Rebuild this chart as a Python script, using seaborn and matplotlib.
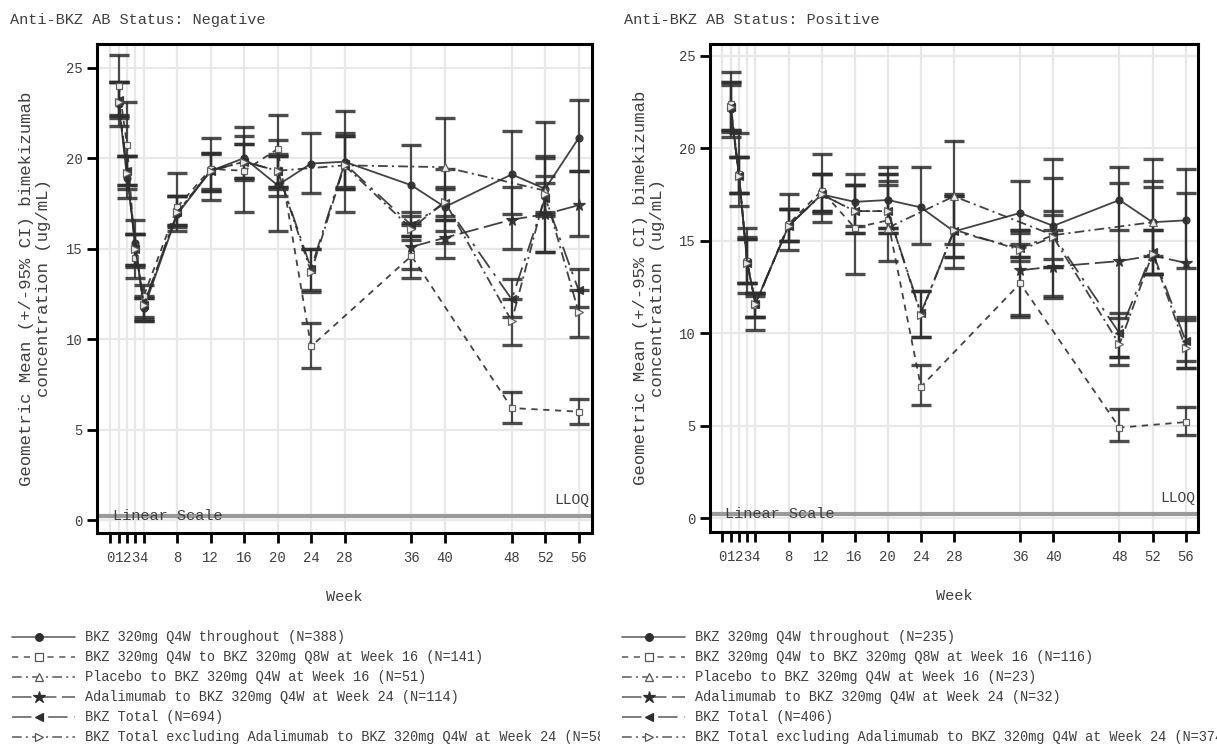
import numpy as np
import pandas as pd
import matplotlib
matplotlib.use("Agg")
import matplotlib.pyplot as plt
import seaborn as sns

# ---------------- data ----------------
WEEKS_ALL = [1, 2, 3, 4, 8, 12, 16, 20, 24, 28, 36, 40, 48, 52, 56]
WEEKS_Q8W = [1, 2, 3, 4, 8, 12, 16, 20, 24, 36, 48, 56]
WEEKS_PBO = [20, 28, 40, 52]
WEEKS_ADA = [36, 40, 48, 52, 56]
TICK_WEEKS = [0, 1, 2, 3, 4, 8, 12, 16, 20, 24, 28, 36, 40, 48, 52, 56]
TICK_LABELS = ["0", "1", "2", "3", "4", "8", "12", "16", "20", "24", "28", "36", "40", "48", "52", "56"]
Y_TICKS = [0, 5, 10, 15, 20, 25]
LLOQ = 0.25

PANEL_TITLES = ["Anti-BKZ AB Status: Negative", "Anti-BKZ AB Status: Positive"]

# Negative panel
neg_q4w_gm = [23.0, 18.9, 15.3, 11.7, 16.9, 19.3, 20.0, 18.5, 19.7, 19.8, 18.5, 17.3, 19.1, 18.3, 21.1]
neg_q4w_lo = [21.8, 17.8, 14.0, 11.0, 16.2, 18.3, 18.8, 16.0, 18.1, 18.3, 16.3, 15.3, 16.9, 14.8, 19.3]
neg_q4w_hi = [24.2, 20.1, 16.6, 12.4, 17.9, 20.3, 21.2, 21.0, 21.4, 21.2, 20.7, 19.4, 21.5, 22.0, 23.2]

neg_q8w_gm = [24.0, 20.7, 14.5, 12.4, 17.3, 19.4, 19.3, 20.5, 9.6, 14.6, 6.2, 6.0]
neg_q8w_lo = [22.3, 18.5, 13.4, 11.0, 16.0, 17.7, 17.0, 17.9, 8.4, 13.4, 5.4, 5.3]
neg_q8w_hi = [25.7, 23.1, 15.8, 13.0, 19.2, 21.1, 21.7, 22.4, 10.9, 15.7, 7.1, 6.7]

neg_pbo_gm = [19.3, 19.6, 19.5, 18.2]
neg_pbo_lo = [18.4, 17.0, 16.0, 16.8]
neg_pbo_hi = [20.1, 22.6, 22.2, 20.0]

neg_ada_gm = [15.1, 15.6, 16.6, 16.9, 17.4]
neg_ada_lo = [13.9, 14.5, 15.0, 14.8, 15.7]
neg_ada_hi = [16.4, 16.8, 18.4, 20.1, 19.3]

neg_tot_gm = [23.2, 19.3, 15.0, 11.9, 17.0, 19.3, 19.8, 19.3, 13.9, 19.7, 16.3, 17.5, 12.2, 17.8, 12.7]
neg_tot_lo = [22.4, 18.5, 14.1, 11.2, 16.3, 18.2, 18.9, 18.4, 12.7, 18.4, 15.7, 16.6, 11.2, 16.9, 11.8]
neg_tot_hi = [24.2, 20.1, 15.8, 12.3, 17.9, 20.2, 20.8, 20.1, 15.0, 21.4, 17.0, 18.3, 13.3, 18.6, 13.9]

neg_tex_gm = [23.1, 19.2, 15.0, 11.9, 17.0, 19.3, 19.8, 19.3, 13.7, 19.6, 16.1, 17.6, 11.0, 18.0, 11.5]
neg_tex_lo = [22.2, 18.3, 14.1, 11.1, 16.3, 18.2, 18.9, 18.3, 12.6, 18.3, 15.5, 16.6, 9.7, 17.0, 10.1]
neg_tex_hi = [24.2, 20.1, 15.8, 12.3, 17.9, 20.3, 20.8, 20.2, 15.0, 21.2, 16.8, 18.4, 12.2, 19.0, 12.7]

# Positive panel
pos_q4w_gm = [22.1, 18.5, 13.8, 11.6, 15.8, 17.5, 17.1, 17.2, 16.8, 15.5, 16.5, 15.8, 17.2, 16.0, 16.1]
pos_q4w_lo = [20.9, 17.6, 12.7, 10.9, 15.0, 16.5, 15.8, 15.4, 14.8, 13.5, 14.8, 12.0, 15.6, 13.2, 13.5]
pos_q4w_hi = [23.4, 19.5, 15.2, 12.2, 16.7, 18.6, 18.6, 19.0, 19.0, 17.5, 18.2, 19.4, 19.0, 19.4, 18.9]

pos_q8w_gm = [22.4, 18.6, 13.9, 11.5, 15.9, 17.7, 15.7, 16.1, 7.1, 12.7, 4.9, 5.2]
pos_q8w_lo = [20.6, 16.9, 12.2, 10.2, 14.5, 16.0, 13.2, 13.9, 6.1, 11.0, 4.2, 4.5]
pos_q8w_hi = [24.1, 20.8, 15.7, 12.0, 17.5, 19.7, 18.0, 18.2, 8.3, 14.1, 5.9, 6.0]

pos_pbo_gm = [15.7, 17.4, 15.3, 16.0]
pos_pbo_lo = [15.4, 14.8, 13.6, 14.2]
pos_pbo_hi = [18.0, 20.4, 18.4, 18.2]

pos_ada_gm = [13.4, 13.6, 13.9, 14.2, 13.8]
pos_ada_lo = [10.9, 11.9, 8.7, 13.2, 8.1]
pos_ada_hi = [15.6, 15.6, 18.1, 17.9, 17.6]

pos_tot_gm = [22.2, 18.5, 13.8, 11.6, 15.8, 17.5, 16.6, 16.6, 11.1, 15.5, 14.6, 15.3, 10.0, 14.4, 9.6]
pos_tot_lo = [21.0, 17.6, 12.7, 10.9, 15.0, 16.6, 15.4, 15.7, 9.8, 14.1, 14.1, 14.0, 8.7, 13.2, 8.5]
pos_tot_hi = [23.6, 19.5, 15.1, 12.2, 16.7, 18.6, 18.0, 18.6, 12.3, 17.4, 15.6, 16.4, 11.1, 15.6, 10.9]

pos_tex_gm = [22.2, 18.5, 13.8, 11.6, 15.8, 17.5, 16.6, 16.6, 11.0, 15.6, 14.5, 15.2, 9.4, 14.3, 9.2]
pos_tex_lo = [21.0, 17.6, 12.7, 10.9, 15.0, 16.6, 15.4, 15.7, 9.8, 14.1, 13.9, 13.6, 8.3, 13.2, 8.1]
pos_tex_hi = [23.6, 19.5, 15.1, 12.2, 16.7, 18.6, 18.0, 18.6, 12.3, 17.4, 15.4, 16.6, 10.8, 15.6, 10.7]

neg_labels = [
    "BKZ 320mg Q4W throughout (N=388)",
    "BKZ 320mg Q4W to BKZ 320mg Q8W at Week 16 (N=141)",
    "Placebo to BKZ 320mg Q4W at Week 16 (N=51)",
    "Adalimumab to BKZ 320mg Q4W at Week 24 (N=114)",
    "BKZ Total (N=694)",
    "BKZ Total excluding Adalimumab to BKZ 320mg Q4W at Week 24 (N=580)",
]
pos_labels = [
    "BKZ 320mg Q4W throughout (N=235)",
    "BKZ 320mg Q4W to BKZ 320mg Q8W at Week 16 (N=116)",
    "Placebo to BKZ 320mg Q4W at Week 16 (N=23)",
    "Adalimumab to BKZ 320mg Q4W at Week 24 (N=32)",
    "BKZ Total (N=406)",
    "BKZ Total excluding Adalimumab to BKZ 320mg Q4W at Week 24 (N=374)",
]

# ---------------- styles ----------------
LINE_C = "#2e2e2e"
STYLES = [
    dict(ls="-", marker="o", mfc=LINE_C, mec=LINE_C, ms=5),
    dict(ls=(0, (4.5, 4)), marker="s", mfc="white", mec="#555555", ms=5),
    dict(ls=(0, (7, 3, 1.5, 3)), marker="^", mfc="white", mec="#555555", ms=5.5),
    dict(ls=(0, (14, 4)), marker="*", mfc=LINE_C, mec=LINE_C, ms=8.5),
    dict(ls=(0, (14, 5, 2, 5)), marker="<", mfc=LINE_C, mec=LINE_C, ms=5.5),
    dict(ls=(0, (7, 3, 1.5, 3)), marker=">", mfc="white", mec="#555555", ms=5.5),
]

sns.set_theme(style="whitegrid")
plt.rcParams["font.family"] = ["Liberation Mono", "DejaVu Sans Mono"]
plt.rcParams["lines.scale_dashes"] = False
TXT_C = "#3f3f3f"

W, H = 1217, 744
fig = plt.figure(figsize=(W / 100, H / 100), dpi=100)


def px_rect(x0, y0, x1, y1):
    return [x0 / W, 1 - y1 / H, (x1 - x0) / W, (y1 - y0) / H]


panels = [
    dict(rect=px_rect(97, 44, 592, 533), xlim=(-1.6, 57.6), ylim=(-0.7, 26.3), title_x=10,
         series=[(WEEKS_ALL, neg_q4w_gm, neg_q4w_lo, neg_q4w_hi),
                 (WEEKS_Q8W, neg_q8w_gm, neg_q8w_lo, neg_q8w_hi),
                 (WEEKS_PBO, neg_pbo_gm, neg_pbo_lo, neg_pbo_hi),
                 (WEEKS_ADA, neg_ada_gm, neg_ada_lo, neg_ada_hi),
                 (WEEKS_ALL, neg_tot_gm, neg_tot_lo, neg_tot_hi),
                 (WEEKS_ALL, neg_tex_gm, neg_tex_lo, neg_tex_hi)],
         labels=neg_labels, leg_rect=px_rect(0, 620, 600, 744), leg_x0=12),
    dict(rect=px_rect(710, 44, 1198, 532), xlim=(-1.5, 57.5), ylim=(-0.74, 25.63), title_x=624,
         series=[(WEEKS_ALL, pos_q4w_gm, pos_q4w_lo, pos_q4w_hi),
                 (WEEKS_Q8W, pos_q8w_gm, pos_q8w_lo, pos_q8w_hi),
                 (WEEKS_PBO, pos_pbo_gm, pos_pbo_lo, pos_pbo_hi),
                 (WEEKS_ADA, pos_ada_gm, pos_ada_lo, pos_ada_hi),
                 (WEEKS_ALL, pos_tot_gm, pos_tot_lo, pos_tot_hi),
                 (WEEKS_ALL, pos_tex_gm, pos_tex_lo, pos_tex_hi)],
         labels=pos_labels, leg_rect=px_rect(610, 620, 1217, 744), leg_x0=12),
]

for k, p in enumerate(panels):
    ax = fig.add_axes(p["rect"])
    ax.set_facecolor("white")
    ax.set_xlim(*p["xlim"])
    ax.set_ylim(*p["ylim"])
    ax.set_xticks(TICK_WEEKS)
    ax.set_xticklabels(TICK_LABELS)
    ax.set_yticks(Y_TICKS)
    ax.grid(True, color="#e8e8e8", lw=1.6)
    ax.set_axisbelow(True)
    for sp in ax.spines.values():
        sp.set_color("black")
        sp.set_linewidth(2.2)
        sp.set_visible(True)
    ax.tick_params(axis="both", which="both", bottom=True, left=True, direction="out",
                   length=7, width=2, color="black", labelcolor=TXT_C, labelsize=10)
    ax.tick_params(axis="x", pad=6)

    # LLOQ line and notes
    ax.axhline(LLOQ, color="#9a9a9a", lw=3, zorder=1.5)
    ax.text(0.3, 0.02, "Linear Scale", fontsize=11, color=TXT_C, va="baseline", ha="left", zorder=1.6)
    ax.text(p["xlim"][1] - 0.3, 0.9, "LLOQ", fontsize=10.5, color=TXT_C, va="baseline", ha="right")

    for (wk, gm, lo, hi), st in zip(p["series"], STYLES):
        gm_a, lo_a, hi_a = np.array(gm), np.array(lo), np.array(hi)
        ax.errorbar(wk, gm_a, yerr=[gm_a - lo_a, hi_a - gm_a], fmt="none", ecolor=LINE_C,
                    elinewidth=1.6, capsize=7, capthick=2.4, alpha=0.85, zorder=3)
        df = pd.DataFrame({"week": wk, "gm": gm})
        sns.lineplot(data=df, x="week", y="gm", ax=ax, color=LINE_C, lw=1.3, alpha=0.9,
                     linestyle=st["ls"], marker=st["marker"], markersize=st["ms"],
                     markerfacecolor=st["mfc"], markeredgecolor=st["mec"], markeredgewidth=0.9,
                     errorbar=None, legend=False, zorder=4)

    ax.set_xlabel("Week", fontsize=11, color=TXT_C, labelpad=18)
    ax.set_ylabel("Geometric Mean (+/-95% CI) bimekizumab\nconcentration (ug/mL)",
                  fontsize=12.5, color=TXT_C, linespacing=1.15)
    ax.yaxis.set_label_coords(-0.093, 0.5)

    fig.text(p["title_x"] / W, 1 - 20 / H, PANEL_TITLES[k], fontsize=11,
             color=TXT_C, va="center", ha="left")

    # legend drawn in its own pixel-space axes
    lax = fig.add_axes(p["leg_rect"])
    lax.set_axis_off()
    r = p["leg_rect"]
    wpx = r[2] * W
    lax.set_xlim(0, wpx)
    lax.set_ylim(744, 620)
    x0 = p["leg_x0"]
    for i, (lab, st) in enumerate(zip(p["labels"], STYLES)):
        yy = 637 + i * 20
        lax.plot([x0, x0 + 63], [yy, yy], color="#555555", lw=1.2, alpha=0.9, linestyle=st["ls"])
        lax.plot([x0 + 27], [yy], linestyle="none", marker=st["marker"], markersize=st["ms"] + 0.5,
                 markerfacecolor=st["mfc"], markeredgecolor=st["mec"], markeredgewidth=0.9)
        lax.text(x0 + 73, yy, lab, fontsize=9.8, color=TXT_C, va="center", ha="left", clip_on=True)

fig.savefig("out.png", dpi=100, facecolor="white")
